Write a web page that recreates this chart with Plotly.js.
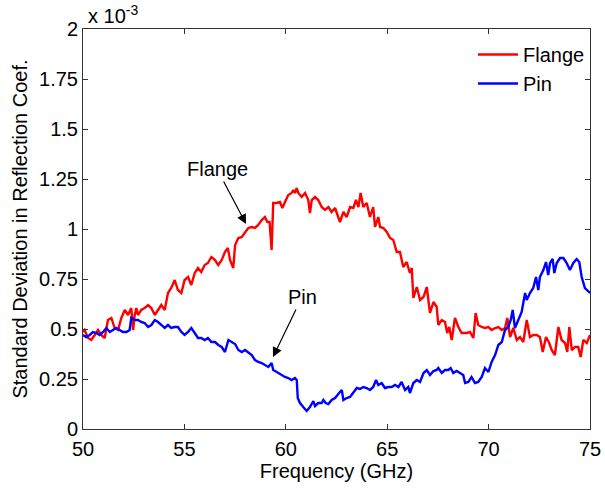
<!DOCTYPE html>
<html>
<head>
<meta charset="utf-8">
<script src="https://cdn.plot.ly/plotly-3.0.1.min.js"></script>
<style>html,body{margin:0;padding:0;background:#fff;}#chart{width:605px;height:488px;}</style>
</head>
<body>
<div id="chart"></div>
<script>
// Frequency in GHz, std dev in units of 1e-3
var flangeFreq = [50.00,50.08,50.25,50.41,50.58,50.74,50.90,51.07,51.23,51.40,51.56,51.73,51.89,52.06,52.22,52.38,52.47,52.55,52.63,52.71,52.87,53.04,53.21,53.37,53.54,53.70,53.86,54.03,54.19,54.35,54.52,54.68,54.85,55.01,55.18,55.34,55.51,55.67,55.83,56.00,56.16,56.33,56.51,56.67,56.84,57.00,57.14,57.25,57.41,57.50,57.66,57.83,57.99,58.15,58.32,58.48,58.64,58.81,58.97,59.09,59.20,59.30,59.38,59.55,59.71,59.83,59.96,60.12,60.29,60.37,60.45,60.54,60.62,60.78,60.95,61.11,61.19,61.28,61.44,61.60,61.77,61.93,62.10,62.26,62.43,62.51,62.67,62.84,63.00,63.17,63.33,63.46,63.58,63.69,63.82,63.99,64.15,64.31,64.40,64.56,64.65,64.81,64.98,65.14,65.30,65.47,65.63,65.79,65.96,66.12,66.21,66.29,66.46,66.62,66.79,66.95,67.11,67.28,67.44,67.52,67.69,67.85,67.96,68.06,68.18,68.34,68.51,68.67,68.84,68.92,69.08,69.25,69.36,69.49,69.66,69.82,69.99,70.15,70.32,70.48,70.65,70.81,70.92,71.06,71.22,71.39,71.55,71.71,71.88,72.04,72.20,72.37,72.53,72.67,72.83,72.99,73.11,73.27,73.44,73.60,73.77,73.88,73.98,74.10,74.26,74.42,74.54,74.67,74.84,75.00];
var flangeStd = [0.485,0.495,0.455,0.445,0.47,0.495,0.47,0.455,0.545,0.555,0.505,0.495,0.555,0.595,0.57,0.605,0.495,0.57,0.605,0.57,0.595,0.605,0.62,0.605,0.57,0.595,0.62,0.595,0.68,0.705,0.745,0.695,0.68,0.745,0.76,0.72,0.78,0.805,0.785,0.82,0.83,0.86,0.845,0.82,0.845,0.885,0.905,0.845,0.805,0.92,0.955,0.96,0.985,1.005,1.01,1.005,1.02,1.045,1.06,1.035,1.035,0.895,1.13,1.13,1.135,1.105,1.135,1.17,1.18,1.195,1.18,1.205,1.18,1.16,1.18,1.145,1.08,1.145,1.16,1.145,1.11,1.095,1.11,1.085,1.105,1.085,1.035,1.085,1.06,1.11,1.105,1.145,1.11,1.18,1.11,1.13,1.06,1.11,1.01,1.06,1.01,1.005,0.985,0.955,0.945,0.885,0.885,0.81,0.835,0.78,0.805,0.655,0.71,0.645,0.66,0.71,0.58,0.635,0.61,0.52,0.545,0.535,0.48,0.51,0.445,0.555,0.51,0.48,0.48,0.48,0.485,0.455,0.58,0.52,0.51,0.505,0.51,0.495,0.505,0.51,0.495,0.505,0.555,0.46,0.505,0.445,0.46,0.435,0.545,0.46,0.47,0.47,0.46,0.385,0.46,0.43,0.395,0.37,0.51,0.445,0.43,0.385,0.51,0.395,0.41,0.41,0.36,0.445,0.43,0.47];

var pinFreq = [50.00,50.16,50.33,50.49,50.66,50.82,50.99,51.15,51.32,51.48,51.64,51.81,51.97,52.14,52.30,52.38,52.55,52.71,52.87,53.04,53.21,53.37,53.54,53.70,53.86,54.03,54.19,54.35,54.52,54.68,54.85,55.01,55.18,55.34,55.51,55.67,55.83,56.00,56.16,56.33,56.51,56.67,56.84,57.00,57.17,57.33,57.50,57.66,57.83,57.99,58.15,58.32,58.48,58.64,58.81,58.97,59.14,59.30,59.38,59.47,59.63,59.79,59.96,60.12,60.29,60.45,60.54,60.59,60.70,60.86,61.03,61.19,61.36,61.44,61.60,61.77,61.85,61.97,62.10,62.26,62.43,62.67,62.76,62.84,63.00,63.17,63.33,63.50,63.66,63.82,63.99,64.15,64.31,64.45,64.56,64.73,64.89,65.06,65.22,65.39,65.55,65.71,65.88,66.04,66.12,66.29,66.46,66.62,66.79,66.95,67.11,67.28,67.44,67.52,67.69,67.85,68.01,68.13,68.26,68.42,68.59,68.75,68.84,69.00,69.16,69.33,69.49,69.66,69.82,69.99,70.15,70.32,70.48,70.65,70.81,70.97,71.09,71.19,71.30,71.47,71.63,71.80,71.88,72.04,72.20,72.34,72.45,72.53,72.70,72.83,72.94,73.03,73.16,73.24,73.36,73.52,73.69,73.85,74.01,74.18,74.34,74.47,74.59,74.75,74.92,75.00];
var pinStd = [0.47,0.46,0.47,0.485,0.48,0.47,0.485,0.505,0.485,0.495,0.505,0.495,0.485,0.485,0.495,0.555,0.545,0.545,0.535,0.53,0.51,0.52,0.545,0.535,0.52,0.505,0.52,0.505,0.51,0.51,0.485,0.47,0.485,0.505,0.48,0.455,0.455,0.445,0.455,0.435,0.435,0.42,0.41,0.385,0.445,0.435,0.425,0.395,0.385,0.395,0.385,0.37,0.345,0.335,0.33,0.32,0.31,0.33,0.295,0.29,0.28,0.27,0.26,0.255,0.245,0.255,0.245,0.155,0.13,0.11,0.09,0.11,0.14,0.115,0.13,0.13,0.145,0.13,0.125,0.145,0.155,0.185,0.195,0.145,0.155,0.16,0.185,0.205,0.2,0.21,0.205,0.195,0.21,0.245,0.22,0.23,0.205,0.21,0.21,0.22,0.21,0.235,0.195,0.21,0.18,0.23,0.245,0.235,0.28,0.295,0.27,0.29,0.295,0.305,0.28,0.295,0.295,0.305,0.28,0.29,0.28,0.27,0.23,0.235,0.26,0.23,0.235,0.26,0.305,0.285,0.335,0.37,0.42,0.435,0.495,0.51,0.545,0.595,0.505,0.545,0.585,0.68,0.645,0.68,0.705,0.76,0.695,0.76,0.795,0.835,0.77,0.83,0.85,0.78,0.83,0.855,0.855,0.83,0.795,0.83,0.85,0.835,0.76,0.705,0.685,0.68];

var xTicks = [50,55,60,65,70,75];
var yTicks = [0,0.25,0.5,0.75,1,1.25,1.5,1.75,2];
var yTickText = ['0','0.25','0.5','0.75','1','1.25','1.5','1.75','2'];
var seriesNames = ['Flange','Pin'];

var font = 'Liberation Sans, Arial, sans-serif';

var traces = [
  {x: flangeFreq, y: flangeStd, mode: 'lines', name: seriesNames[0], line: {color: '#ff0000', width: 2.4}},
  {x: pinFreq, y: pinStd, mode: 'lines', name: seriesNames[1], line: {color: '#0000ff', width: 2.4}}
];

var axisCommon = {
  showgrid: false, zeroline: false, showline: true, linecolor: '#333', linewidth: 1,
  mirror: 'ticks', ticks: 'inside', ticklen: 5, tickcolor: '#333',
  tickfont: {family: font, size: 20, color: '#000'}
};

var layout = {
  width: 605, height: 488,
  margin: {l: 83, r: 15, t: 29, b: 59},
  paper_bgcolor: '#fff', plot_bgcolor: '#fff',
  font: {family: font, color: '#000'},
  showlegend: true,
  legend: {x: 1, xanchor: 'right', y: 0.985, yanchor: 'top', bgcolor: 'rgba(0,0,0,0)',
           font: {family: font, size: 20, color: '#000'}, itemwidth: 40, tracegroupgap: 0},
  xaxis: Object.assign({}, axisCommon, {range: [50, 75], tickvals: xTicks, ticklabelstandoff: 2,
    title: {text: 'Frequency (GHz)', font: {family: font, size: 20, color: '#000'}, standoff: 4}}),
  yaxis: Object.assign({}, axisCommon, {range: [0, 2], tickvals: yTicks, ticktext: yTickText, ticklabelstandoff: 0,
    title: {text: 'Standard Deviation in Reflection Coef.', font: {family: font, size: 20, color: '#000'}, standoff: 6}}),
  annotations: [
    {xref: 'paper', yref: 'paper', x: 0.005, y: 1, xanchor: 'left', yanchor: 'bottom', showarrow: false,
     text: 'x 10<sup>-3</sup>', font: {family: font, size: 20, color: '#000'}},
    {x: 58.04, y: 1.025, ax: 56.61, ay: 1.30, xref: 'x', yref: 'y', axref: 'x', ayref: 'y',
     text: 'Flange', font: {family: font, size: 20, color: '#000'},
     showarrow: true, arrowhead: 2, arrowsize: 1.6, arrowwidth: 1.2, arrowcolor: '#000', standoff: 0},
    {x: 59.37, y: 0.36, ax: 60.80, ay: 0.66, xref: 'x', yref: 'y', axref: 'x', ayref: 'y',
     text: 'Pin', font: {family: font, size: 20, color: '#000'},
     showarrow: true, arrowhead: 2, arrowsize: 1.6, arrowwidth: 1.2, arrowcolor: '#000', standoff: 0}
  ]
};

Plotly.newPlot('chart', traces, layout, {displayModeBar: false, staticPlot: true});
</script>
</body>
</html>
